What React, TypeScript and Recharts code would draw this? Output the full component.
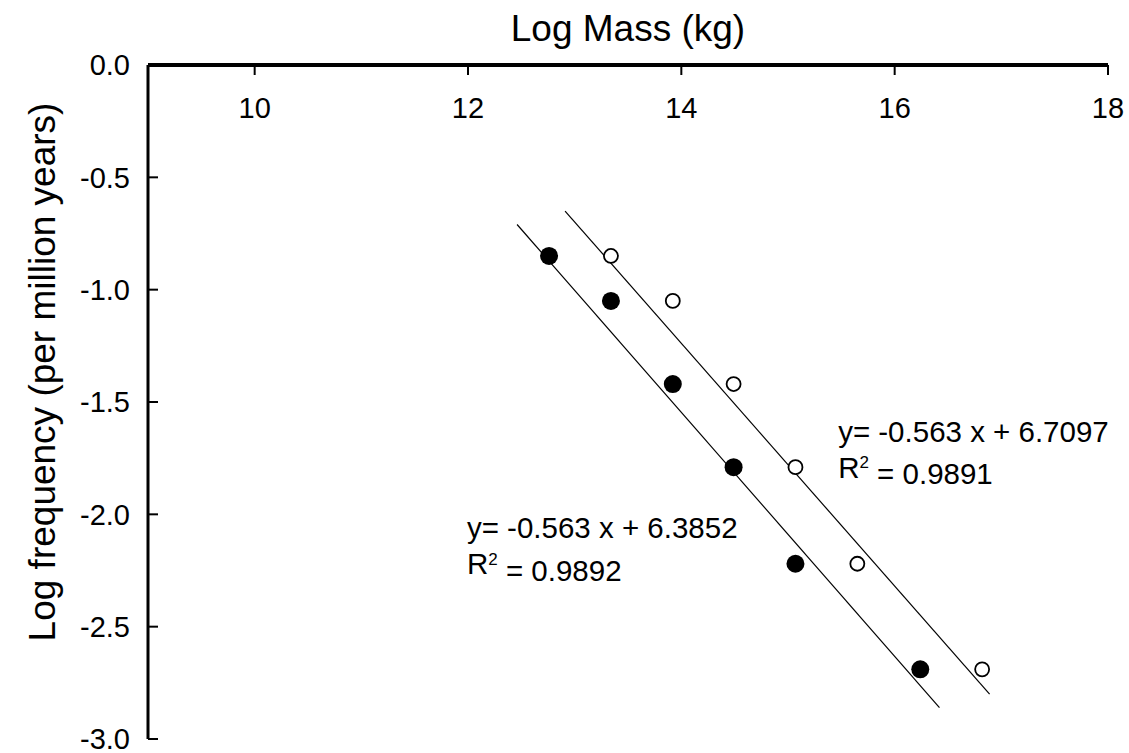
import React from "react";
import { ScatterChart, Scatter, XAxis, YAxis, ReferenceDot, Label } from "recharts";

// axis ticks
const massTicks = [10, 12, 14, 16, 18];
const freqTicks = [0, -0.5, -1, -1.5, -2, -2.5, -3];

// filled circles
const filledMass = [12.76, 13.34, 13.92, 14.49, 15.07, 16.24];
const filledFreq = [-0.85, -1.05, -1.42, -1.79, -2.22, -2.69];

// open circles
const openMass = [13.34, 13.92, 14.49, 15.07, 15.65, 16.82];
const openFreq = [-0.85, -1.05, -1.42, -1.79, -2.22, -2.69];

// regression lines, end points as drawn
const filledFitMass = [12.46, 16.42];
const filledFitFreq = [-0.71, -2.86];
const openFitMass = [12.91, 16.89];
const openFitFreq = [-0.65, -2.8];

const openEquation = "y= -0.563 x + 6.7097";
const openR2 = "0.9891";
const filledEquation = "y= -0.563 x + 6.3852";
const filledR2 = "0.9892";

const toPoints = (xs: number[], ys: number[]) => xs.map((x, i) => ({ x, y: ys[i] }));

const FONT = "Arial, 'Liberation Sans', sans-serif";
const Y_MARGIN = 18;
const TICK_FONT = 29;

const XTick = (props: any) => {
  const { x, y, payload } = props;
  return (
    <g>
      <line x1={x} x2={x} y1={y} y2={y + 10} stroke="#000" strokeWidth={2} />
      <text x={x} y={y + 32} dy="0.71em" textAnchor="middle" fontSize={TICK_FONT} fontFamily={FONT} fill="#000">
        {payload.value}
      </text>
    </g>
  );
};

const YTick = (props: any) => {
  const { x, y, payload } = props;
  return (
    <g>
      <line x1={x + Y_MARGIN} x2={x + Y_MARGIN + 10} y1={y} y2={y} stroke="#000" strokeWidth={2} />
      <text x={x} y={y} dy="0.36em" textAnchor="end" fontSize={TICK_FONT} fontFamily={FONT} fill="#000">
        {payload.value.toFixed(1)}
      </text>
    </g>
  );
};

const equationLabel = (eq: string, r2: string) => (props: any) => {
  const { viewBox } = props;
  const x = viewBox.x;
  const y = viewBox.y;
  return (
    <text x={x} y={y} fontSize={29.5} fontFamily={FONT} fill="#000">
      <tspan x={x} dy="0.35em">{eq}</tspan>
      <tspan x={x} dy="1.22em">R</tspan>
      <tspan dy="-0.55em" fontSize={17}>2</tspan>
      <tspan dy="0.55em"> = {r2}</tspan>
    </text>
  );
};

const filledDot = (props: any) => <circle cx={props.cx} cy={props.cy} r={9} fill="#000" />;
const openDot = (props: any) => (
  <circle cx={props.cx} cy={props.cy} r={7} fill="#fff" stroke="#000" strokeWidth={1.8} />
);

const noShape = () => <g />;

export default function App() {
  return (
    <div style={{ position: "absolute", left: 0, top: 0, background: "#fff" }}>
      <ScatterChart width={1129} height={753} margin={{ top: 5, right: 21, bottom: 14, left: 0 }}>
        <XAxis
          type="number"
          dataKey="x"
          orientation="top"
          height={60}
          domain={[9, 18]}
          ticks={massTicks}
          allowDataOverflow
          axisLine={{ stroke: "#000", strokeWidth: 4 }}
          tickLine={false}
          tickSize={0}
          tickMargin={0}
          tick={<XTick />}
        >
          <Label
            content={(p: any) => (
              <text
                x={p.viewBox.x + p.viewBox.width / 2}
                y={28}
                dy="0.36em"
                textAnchor="middle"
                fontSize={37}
                fontFamily={FONT}
                fill="#000"
              >
                Log Mass (kg)
              </text>
            )}
          />
        </XAxis>
        <YAxis
          type="number"
          dataKey="y"
          width={148}
          domain={[-3, 0]}
          ticks={freqTicks}
          allowDataOverflow
          axisLine={{ stroke: "#000", strokeWidth: 3 }}
          tickLine={false}
          tickSize={0}
          tickMargin={Y_MARGIN}
          tick={<YTick />}
        >
          <Label
            content={() => {
              const cx = 42;
              const cy = 372;
              return (
                <text
                  x={cx}
                  y={cy}
                  dy="0.36em"
                  textAnchor="middle"
                  transform={`rotate(-90 ${cx} ${cy})`}
                  fontSize={37}
                  fontFamily={FONT}
                  fill="#000"
                >
                  Log frequency (per million years)
                </text>
              );
            }}
          />
        </YAxis>
        <Scatter
          data={toPoints(filledFitMass, filledFitFreq)}
          line={{ stroke: "#000", strokeWidth: 1.2 }}
          shape={noShape}
          isAnimationActive={false}
        />
        <Scatter
          data={toPoints(openFitMass, openFitFreq)}
          line={{ stroke: "#000", strokeWidth: 1.2 }}
          shape={noShape}
          isAnimationActive={false}
        />
        <Scatter data={toPoints(filledMass, filledFreq)} shape={filledDot} isAnimationActive={false} />
        <Scatter data={toPoints(openMass, openFreq)} shape={openDot} isAnimationActive={false} />
        <ReferenceDot x={15.47} y={-1.63} r={0} fill="none" stroke="none" label={equationLabel(openEquation, openR2)} />
        <ReferenceDot x={11.99} y={-2.06} r={0} fill="none" stroke="none" label={equationLabel(filledEquation, filledR2)} />
      </ScatterChart>
    </div>
  );
}
